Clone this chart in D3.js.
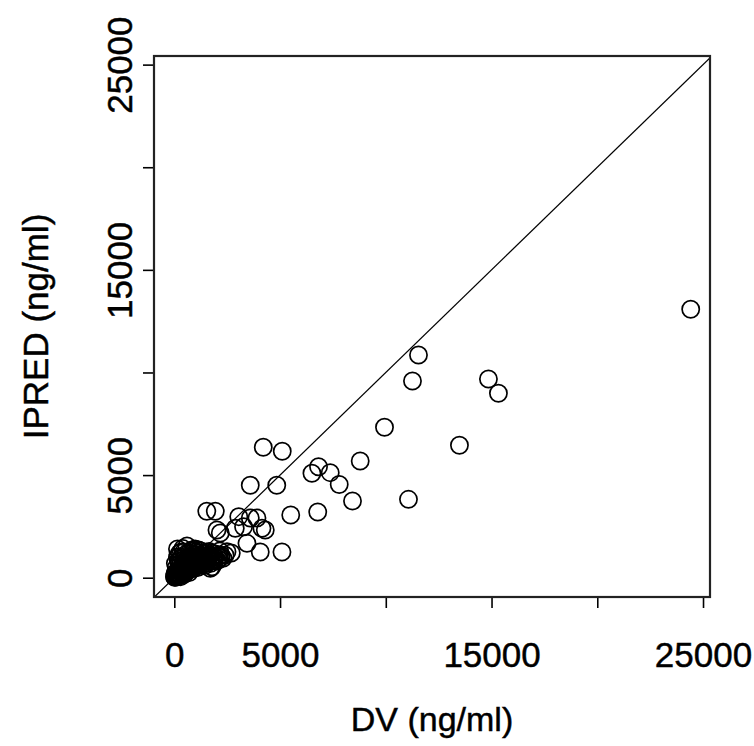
<!DOCTYPE html>
<html>
<head>
<meta charset="utf-8">
<script src="https://cdn.jsdelivr.net/npm/d3@7/dist/d3.min.js"></script>
<style>
    body { margin: 0; background: #ffffff; }
    svg text { font-family: "Liberation Sans", Arial, sans-serif; fill: #000; stroke: #000; stroke-width: 0.45px; }
    .tick line { stroke: #000; stroke-width: 1.6; }
    .point { fill: none; stroke: #000; stroke-width: 1.7; }
</style>
</head>
<body>
<div id="graphHolder"></div>
<script>
'use strict'
// observed concentration (DV) and individual prediction (IPRED), ng/ml
var dv = [24418, 11546, 11262, 14854, 15326, 9939, 13483, 8790, 8426, 11073,
    7798, 7373, 6820, 6508, 4206, 5104, 3592, 4844, 5506, 6782,
    1536, 1938, 3048, 3592, 3908, 4301, 2018, 2883, 3275, 4145,
    3436, 4064, 5090, 2694, 2491, 1782, 1701, 2174,
    20, 45, 60, 85, 100, 120, 150, 170, 200, 230,
    250, 270, 300, 320, 350, 380, 400, 420, 450, 480,
    500, 520, 550, 580, 600, 620, 650, 680, 700, 720,
    750, 780, 800, 830, 850, 880, 900, 950, 980, 1000,
    1050, 1080, 1100, 1150, 1200, 1250, 1300, 1350, 1400, 1450,
    1500, 1550, 1600, 1650, 1700, 1750, 1800, 1850, 1900, 2000,
    2100, 2200, 150, 400, 600, 250, 350, 200, 300, 450,
    550, 650, 750, 850, 950, 1150, 400, 500, 600, 700,
    100, 180, 60, 30, 300, 500, 700, 900, 1100, 1300,
    1500, 1700, 1900, 2100, 2200, 1250, 1050,
    10, 70, 130, 190, 260, 330, 410, 470, 540, 610,
    690, 760, 840, 920, 1010, 1120, 1230, 1340, 1460, 1580,
    1720, 1860, 2020, 2150, 2300, 2400, 280, 520, 760, 980,
    1200, 1420, 1640, 50, 150, 330];
var ipred = [13080, 10853, 9585, 9683, 8986, 7329, 6452, 5687, 3738, 3820,
    4542, 5117, 5409, 5087, 6354, 6160, 4503, 4503, 3055, 3202,
    3236, 3236, 2973, 2909, 2909, 2324, 2324, 2407, 2485, 2407,
    1676, 1252, 1252, 1204, 1267, 536, 458, 2178,
    15, 40, 90, 55, 130, 85, 160, 60, 220, 170,
    310, 210, 260, 420, 290, 340, 470, 360, 150, 430,
    540, 380, 620, 480, 310, 560, 720, 570, 480, 840,
    650, 520, 920, 710, 600, 1010, 770, 830, 660, 1120,
    910, 760, 1200, 960, 830, 1060, 900, 1150, 1010, 800,
    1240, 1050, 900, 1280, 1100, 950, 1200, 1050, 1000, 1150,
    1050, 1000, 1400, 1420, 1550, 1200, 1000, 800, 700, 1250,
    1150, 1000, 1300, 1350, 1300, 1350, 650, 900, 800, 1200,
    500, 350, 250, 180, 50, 200, 250, 450, 500, 600,
    700, 800, 850, 900, 1100, 1300, 1250,
    60, 30, 200, 110, 120, 500, 250, 600, 330, 780,
    380, 980, 450, 1100, 560, 700, 650, 820, 600, 1000,
    700, 900, 820, 1300, 950, 1100, 900, 720, 1050, 1400,
    1000, 1200, 1120, 700, 1000, 1250];
var tickValues = [0, 5000, 10000, 15000, 20000, 25000];
var tickLabels = ["0", "5000", "", "15000", "", "25000"];
var xTitle = "DV (ng/ml)";
var yTitle = "IPRED (ng/ml)";

var _width = 754, _height = 746;
var _box = {left: 154, right: 710, top: 56, bottom: 597};
var _xDomain = [-960, 25330], _yDomain = [-940, 25420];

var _svg = d3.select("div#graphHolder").append("svg")
        .attr("width", _width)
        .attr("height", _height);

var _xScale = d3.scaleLinear().domain(_xDomain).range([_box.left, _box.right]);
var _yScale = d3.scaleLinear().domain(_yDomain).range([_box.bottom, _box.top]);

function fmt(d, i) {
    return tickLabels[i];
}

function renderAxes() {
    var xAxis = d3.axisBottom(_xScale)
            .tickValues(tickValues)
            .tickFormat(fmt)
            .tickSize(11)
            .tickSizeOuter(0);
    var gx = _svg.append("g")
            .attr("class", "x axis")
            .attr("transform", "translate(0," + _box.bottom + ")")
            .call(xAxis);
    gx.select(".domain").remove();
    gx.selectAll("text")
            .attr("y", 70)
            .attr("dy", 0)
            .style("font-size", "35px");

    var yAxis = d3.axisLeft(_yScale)
            .tickValues(tickValues)
            .tickFormat(fmt)
            .tickSize(11)
            .tickSizeOuter(0);
    var gy = _svg.append("g")
            .attr("class", "y axis")
            .attr("transform", "translate(" + _box.left + ",0)")
            .call(yAxis);
    gy.select(".domain").remove();
    // R style: labels parallel to the axis
    gy.selectAll("text")
            .attr("transform", "rotate(-90)")
            .attr("x", 0)
            .attr("y", -22)
            .attr("dy", 0)
            .attr("text-anchor", "middle")
            .style("font-size", "35px");
}

function renderBody() {
    _svg.append("defs")
            .append("clipPath")
            .attr("id", "MainBodyClip")
            .append("rect")
            .attr("x", _box.left)
            .attr("y", _box.top)
            .attr("width", _box.right - _box.left)
            .attr("height", _box.bottom - _box.top);

    var bodyG = _svg.append("g")
            .attr("class", "body")
            .attr("clip-path", "url(#MainBodyClip)");

    bodyG.selectAll("circle.point")
            .data(dv)
            .enter()
            .append("circle")
            .attr("class", "point")
            .attr("cx", function (d) { return _xScale(d); })
            .attr("cy", function (d, i) { return _yScale(ipred[i]); })
            .attr("r", 8.6);

    // line of identity
    var lo = Math.min(_xDomain[0], _yDomain[0]), hi = Math.max(_xDomain[1], _yDomain[1]);
    var line = d3.line()
            .x(function (d) { return _xScale(d); })
            .y(function (d) { return _yScale(d); });
    bodyG.append("path")
            .attr("d", line([lo, hi]))
            .style("fill", "none")
            .style("stroke", "#000")
            .style("stroke-width", 1.2);

    _svg.append("rect")
            .attr("x", _box.left)
            .attr("y", _box.top)
            .attr("width", _box.right - _box.left)
            .attr("height", _box.bottom - _box.top)
            .style("fill", "none")
            .style("stroke", "#222")
            .style("stroke-width", 2.2);
}

function renderTitles() {
    _svg.append("text")
            .attr("x", (_box.left + _box.right) / 2)
            .attr("y", 731)
            .attr("text-anchor", "middle")
            .style("font-size", "34px")
            .text(xTitle);

    _svg.append("text")
            .attr("transform", "translate(48," + (_box.top + _box.bottom) / 2 + ") rotate(-90)")
            .attr("text-anchor", "middle")
            .style("font-size", "35px")
            .text(yTitle);
}

renderAxes();
renderBody();
renderTitles();
</script>
</body>
</html>
